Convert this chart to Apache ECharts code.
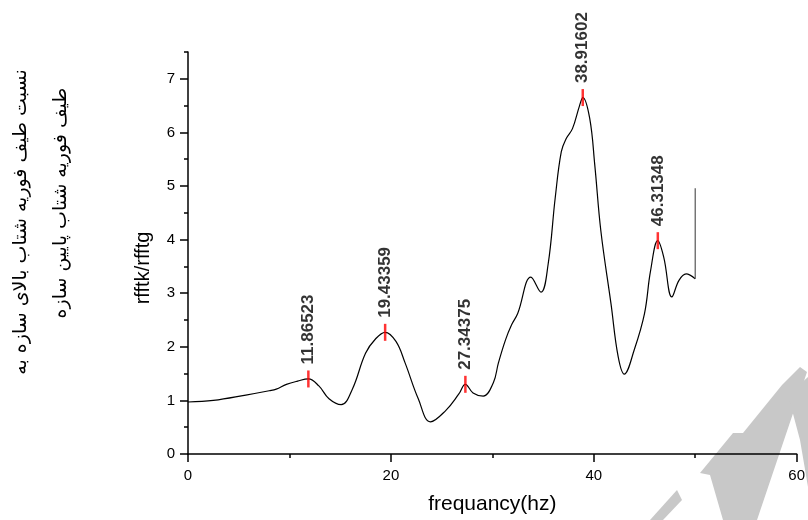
<!doctype html>
<html>
<head>
<meta charset="UTF-8">
<title>rfftk/rfftg</title>
<script src="https://cdn.jsdelivr.net/npm/echarts@6/dist/echarts.min.js"></script>
<style>
  html, body { margin: 0; padding: 0; background: #fff; }
  #main { width: 808px; height: 520px; }
</style>
</head>
<body>
<div id="main"></div>
<script>
// curve
var freqs = [0, 2.5, 5.7, 8.0, 8.7, 9.7, 10.8, 11.87, 12.9, 13.9, 15.1, 16.2, 17.5, 18.5, 19.43,
  20.5, 21.4, 22.7, 23.9, 25.4, 26.7, 27.34, 28.1, 29.1, 30.1, 30.6, 31.3, 31.9, 32.5, 33.8,
  34.8, 35.5, 36.2, 36.8, 37.3, 37.9, 38.6, 38.92, 39.6, 40.1, 40.7, 41.7, 42.4, 43.0, 44.0,
  45.0, 45.6, 46.31, 46.9, 47.7, 48.4, 49.1, 50.0];
var ratios = [0.97, 1.00, 1.10, 1.18, 1.21, 1.30, 1.36, 1.40, 1.27, 1.03, 0.92, 1.21, 1.88, 2.15, 2.27,
  2.10, 1.70, 1.03, 0.60, 0.81, 1.12, 1.30, 1.14, 1.08, 1.33, 1.70, 2.13, 2.41, 2.62, 3.30,
  3.02, 3.54, 4.78, 5.64, 5.89, 6.07, 6.50, 6.65, 6.26, 5.39, 4.16, 2.80, 1.82, 1.49, 1.95,
  2.62, 3.42, 3.98, 3.67, 2.93, 3.24, 3.36, 3.27];
// vertical end of the trace
var tailX = [50.0, 50.0];
var tailY = [3.27, 4.96];
// marked peaks
var peakX = [11.86523, 19.43359, 27.34375, 38.91602, 46.31348];
var peakY = [1.40, 2.27, 1.30, 6.65, 3.98];
var peakLabels = ['11.86523', '19.43359', '27.34375', '38.91602', '46.31348'];
// ticks
var xMajor = [0, 20, 40, 60];
var xMinor = [10, 30, 50];
var yMajor = [0, 1, 2, 3, 4, 5, 6, 7];
var yMinor = [0.5, 1.5, 2.5, 3.5, 4.5, 5.5, 6.5, 7.5];

var faLine1 = 'نسبت طیف فوریه شتاب بالای سازه به';
var faLine2 = 'طیف فوریه شتاب پایین سازه';

var fam = 'Liberation Sans, Arial, sans-serif';

function zip(a, b) {
  var out = [];
  for (var i = 0; i < a.length; i++) out.push([a[i], b[i]]);
  return out;
}

var chart = echarts.init(document.getElementById('main'));

var option = {
  backgroundColor: '#fff',
  animation: false,
  grid: { left: 188, right: 8, top: 52, bottom: 61 },
  xAxis: [{
    type: 'value', min: 0, max: 60,
    name: 'frequancy(hz)', nameLocation: 'middle', nameGap: 40,
    nameTextStyle: { fontFamily: fam, color: '#000', fontSize: 21 },
    axisLine: { show: true, lineStyle: { color: '#000', width: 1.5 } },
    axisTick: { show: true, length: 8, customValues: xMajor, lineStyle: { color: '#000', width: 1.5 } },
    axisLabel: { customValues: xMajor, margin: 14, fontFamily: fam, color: '#000', fontSize: 15 },
    splitLine: { show: false }
  }, {
    type: 'value', min: 0, max: 60, position: 'bottom',
    axisLine: { show: false },
    axisTick: { show: true, length: 4, customValues: xMinor, lineStyle: { color: '#000', width: 1.5 } },
    axisLabel: { show: false },
    splitLine: { show: false }
  }],
  yAxis: [{
    type: 'value', min: 0, max: 7.5,
    name: 'rfftk/rfftg', nameLocation: 'middle', nameGap: 35,
    nameTextStyle: { fontFamily: fam, color: '#000', fontSize: 20, padding: [0, 30, 0, 0] },
    axisLine: { show: true, lineStyle: { color: '#000', width: 1.5 } },
    axisTick: { show: true, length: 8, customValues: yMajor, lineStyle: { color: '#000', width: 1.5 } },
    axisLabel: { customValues: yMajor, margin: 13, fontFamily: fam, color: '#000', fontSize: 15 },
    splitLine: { show: false }
  }, {
    type: 'value', min: 0, max: 7.5, position: 'left',
    axisLine: { show: false },
    axisTick: { show: true, length: 4, customValues: yMinor, lineStyle: { color: '#000', width: 1.5 } },
    axisLabel: { show: false },
    splitLine: { show: false }
  }],
  graphic: [
    { type: 'text', x: 21, y: 222, rotation: Math.PI / 2,
      style: { text: faLine1, font: '19px "DejaVu Sans"', fill: '#000', textAlign: 'center', textVerticalAlign: 'middle' } },
    { type: 'text', x: 61, y: 203, rotation: Math.PI / 2,
      style: { text: faLine2, font: '19px "DejaVu Sans"', fill: '#000', textAlign: 'center', textVerticalAlign: 'middle' } },
    // light watermark in the corner
    { type: 'polygon', z: -10, silent: true,
      shape: { points: [[800, 367], [807, 372], [757, 520], [723, 520], [710, 475], [700, 473], [733, 433], [743, 433], [782, 385]] },
      style: { fill: '#c8c8c8' } },
    { type: 'polygon', z: -10, silent: true,
      shape: { points: [[788, 395], [808, 377], [808, 487], [800, 440]] },
      style: { fill: '#c8c8c8' } },
    { type: 'polygon', z: -10, silent: true,
      shape: { points: [[650, 520], [677, 490], [682, 500], [663, 520]] },
      style: { fill: '#c8c8c8' } }
  ],
  series: [{
    type: 'line',
    data: zip(freqs, ratios),
    smooth: 0.4,
    showSymbol: false,
    lineStyle: { color: '#000', width: 1.2 },
    z: 3
  }, {
    type: 'line',
    data: zip(tailX, tailY),
    showSymbol: false,
    lineStyle: { color: '#555', width: 1.2 },
    z: 3
  }, {
    type: 'scatter',
    data: zip(peakX, peakY),
    symbol: 'rect',
    symbolSize: [2.5, 17],
    itemStyle: { color: '#ff0000' },
    z: 4,
    label: {
      show: true,
      position: 'top',
      distance: 6,
      rotate: 90,
      align: 'left',
      verticalAlign: 'middle',
      formatter: function (p) { return peakLabels[p.dataIndex]; },
      fontFamily: fam,
      fontWeight: 'bold',
      fontSize: 17,
      color: '#000'
    }
  }]
};

chart.setOption(option);
</script>
</body>
</html>
